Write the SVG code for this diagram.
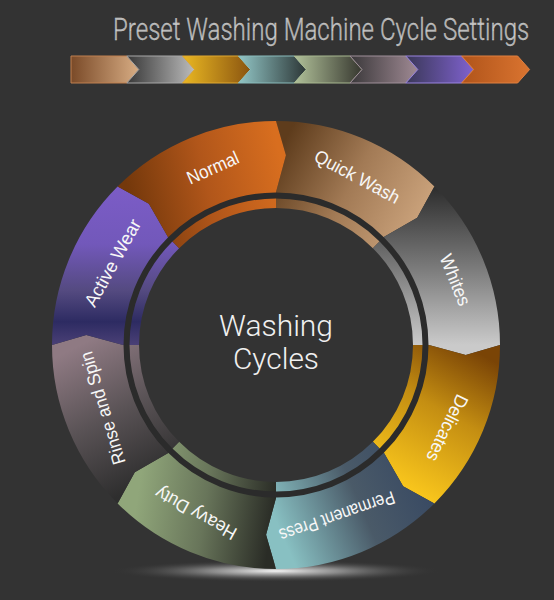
<svg xmlns="http://www.w3.org/2000/svg" width="554" height="600" viewBox="0 0 554 600">
<style>
.lbl{font-family:"Liberation Sans",Arial,sans-serif;font-size:18.5px;fill:#f7f7f7;text-anchor:middle}
.ttl{font-family:Roboto,"Liberation Sans",Arial,sans-serif;font-weight:300;font-size:32px;fill:#b0b0b0;stroke:#d8d8d8;stroke-width:0.35}
.ctr{font-family:Roboto,"Liberation Sans",Arial,sans-serif;font-weight:300;font-size:29px;fill:#f0f0f0;text-anchor:middle}
.chev{stroke-width:1}
</style>
<defs>
<linearGradient id="a1" x1="0" y1="0" x2="1" y2="0"><stop offset="0" stop-color="#7a4a28"/><stop offset="1" stop-color="#d8ad84"/></linearGradient>
<linearGradient id="a2" x1="0" y1="0" x2="1" y2="0"><stop offset="0" stop-color="#383838"/><stop offset="1" stop-color="#bcbcbc"/></linearGradient>
<linearGradient id="a3" x1="0" y1="0" x2="1" y2="0"><stop offset="0" stop-color="#eab822"/><stop offset="1" stop-color="#8a5410"/></linearGradient>
<linearGradient id="a4" x1="0" y1="0" x2="1" y2="0"><stop offset="0" stop-color="#92c6c6"/><stop offset="1" stop-color="#2c3636"/></linearGradient>
<linearGradient id="a5" x1="0" y1="0" x2="1" y2="0"><stop offset="0" stop-color="#b2c29a"/><stop offset="1" stop-color="#36372f"/></linearGradient>
<linearGradient id="a6" x1="0" y1="0" x2="1" y2="0"><stop offset="0" stop-color="#3a383a"/><stop offset="1" stop-color="#a08a94"/></linearGradient>
<linearGradient id="a7" x1="0" y1="0" x2="1" y2="0"><stop offset="0" stop-color="#3a3858"/><stop offset="1" stop-color="#8062d0"/></linearGradient>
<linearGradient id="a8" x1="0" y1="0" x2="1" y2="0"><stop offset="0" stop-color="#b0541a"/><stop offset="1" stop-color="#da7430"/></linearGradient>

<linearGradient id="gQuick" gradientUnits="userSpaceOnUse" x1="285" y1="140" x2="425" y2="215"><stop offset="0" stop-color="#5e3c1c"/><stop offset="0.5" stop-color="#a27a55"/><stop offset="1" stop-color="#cba37c"/></linearGradient>
<linearGradient id="gWhites" gradientUnits="userSpaceOnUse" x1="0" y1="190" x2="0" y2="345"><stop offset="0" stop-color="#303030"/><stop offset="0.5" stop-color="#7a7a7a"/><stop offset="1" stop-color="#cacaca"/></linearGradient>
<linearGradient id="gDelic" gradientUnits="userSpaceOnUse" x1="470" y1="348" x2="395" y2="480"><stop offset="0" stop-color="#7a4406"/><stop offset="0.45" stop-color="#c48e12"/><stop offset="1" stop-color="#f8c51c"/></linearGradient>
<linearGradient id="gPerm" gradientUnits="userSpaceOnUse" x1="420" y1="470" x2="280" y2="530"><stop offset="0" stop-color="#394a63"/><stop offset="0.45" stop-color="#4a5a68"/><stop offset="1" stop-color="#88c0c2"/></linearGradient>
<linearGradient id="gHeavy" gradientUnits="userSpaceOnUse" x1="140" y1="480" x2="275" y2="500"><stop offset="0" stop-color="#90a67a"/><stop offset="0.5" stop-color="#68755a"/><stop offset="1" stop-color="#2a2c26"/></linearGradient>
<linearGradient id="gRinse" gradientUnits="userSpaceOnUse" x1="80" y1="345" x2="150" y2="480"><stop offset="0" stop-color="#8f7a83"/><stop offset="0.5" stop-color="#5a5356"/><stop offset="1" stop-color="#2e2e2e"/></linearGradient>
<linearGradient id="gActive" gradientUnits="userSpaceOnUse" x1="0" y1="190" x2="0" y2="345"><stop offset="0" stop-color="#7b5cc6"/><stop offset="0.35" stop-color="#7258ba"/><stop offset="0.65" stop-color="#544a80"/><stop offset="0.85" stop-color="#2d2b62"/><stop offset="1" stop-color="#4a4076"/></linearGradient>
<linearGradient id="gNormal" gradientUnits="userSpaceOnUse" x1="130" y1="200" x2="282" y2="165"><stop offset="0" stop-color="#74380b"/><stop offset="0.5" stop-color="#b1561a"/><stop offset="1" stop-color="#d86e1f"/></linearGradient>
<radialGradient id="glow" cx="0.5" cy="0.5" r="0.5"><stop offset="0" stop-color="#ffffff" stop-opacity="0.95"/><stop offset="0.4" stop-color="#dddddd" stop-opacity="0.5"/><stop offset="1" stop-color="#333333" stop-opacity="0"/></radialGradient>
</defs>

<rect x="0" y="0" width="554" height="600" fill="#333333"/>

<g id="title">
<text class="ttl" transform="translate(113,40) scale(0.752,1)" x="0" y="0">Preset Washing Machine Cycle Settings</text>
</g>

<g id="arrow-bar">
<path class="chev" fill="url(#a1)" stroke="#c08050" d="M71 56 L127 56 L139 69.5 L127 83 L71 83 Z"/>
<path class="chev" fill="url(#a2)" stroke="#a8a8a8" d="M126.8 56 L182.8 56 L194.8 69.5 L182.8 83 L126.8 83 L138.8 69.5 Z"/>
<path class="chev" fill="url(#a3)" stroke="#e0a830" d="M182.6 56 L238.6 56 L250.6 69.5 L238.6 83 L182.6 83 L194.6 69.5 Z"/>
<path class="chev" fill="url(#a4)" stroke="#8abcbc" d="M238.4 56 L294.4 56 L306.4 69.5 L294.4 83 L238.4 83 L250.4 69.5 Z"/>
<path class="chev" fill="url(#a5)" stroke="#a8b890" d="M294.2 56 L350.2 56 L362.2 69.5 L350.2 83 L294.2 83 L306.2 69.5 Z"/>
<path class="chev" fill="url(#a6)" stroke="#a0909a" d="M350 56 L406 56 L418 69.5 L406 83 L350 83 L362 69.5 Z"/>
<path class="chev" fill="url(#a7)" stroke="#9a84e0" d="M405.8 56 L461.8 56 L473.8 69.5 L461.8 83 L405.8 83 L417.8 69.5 Z"/>
<path class="chev" fill="url(#a8)" stroke="#e08040" d="M461.6 56 L517.6 56 L529.6 69.5 L517.6 83 L461.6 83 L473.6 69.5 Z"/>
</g>

<ellipse id="floor-glow" cx="276" cy="571" rx="165" ry="11" fill="url(#glow)"/>

<g id="wheel">
<g id="seg-quick-wash">
<path fill="url(#gQuick)" d="M276 121 A224 224 0 0 1 434.39 186.61 L417.2 217.87 L384.19 236.81 L372.87 248.13 A137 137 0 0 0 276 208 L276 192 L285.94 155.26 Z"/>
<text class="lbl" transform="translate(357,177) rotate(28)" y="6" textLength="94" lengthAdjust="spacingAndGlyphs">Quick Wash</text>
</g>
<g id="seg-whites">
<path fill="url(#gWhites)" d="M434.39 186.61 A224 224 0 0 1 500 345 L465.74 354.94 L429 345 L413 345 A137 137 0 0 0 372.87 248.13 L384.19 236.81 L417.2 217.87 Z"/>
<text class="lbl" transform="translate(455,280) rotate(68)" y="6" textLength="54" lengthAdjust="spacingAndGlyphs">Whites</text>
</g>
<g id="seg-delicates">
<path fill="url(#gDelic)" d="M500 345 A224 224 0 0 1 434.39 503.39 L403.13 486.2 L384.19 453.19 L372.87 441.87 A137 137 0 0 0 413 345 L429 345 L465.74 354.94 Z"/>
<text class="lbl" transform="translate(447,428) rotate(116)" y="6" textLength="72" lengthAdjust="spacingAndGlyphs">Delicates</text>
</g>
<g id="seg-permanent-press">
<path fill="url(#gPerm)" d="M434.39 503.39 A224 224 0 0 1 276 569 L266.06 534.74 L276 498 L276 482 A137 137 0 0 0 372.87 441.87 L384.19 453.19 L403.13 486.2 Z"/>
<text class="lbl" transform="translate(337,516) rotate(161)" y="6" textLength="121" lengthAdjust="spacingAndGlyphs">Permanent Press</text>
</g>
<g id="seg-heavy-duty">
<path fill="url(#gHeavy)" d="M276 569 A224 224 0 0 1 117.61 503.39 L134.8 472.13 L167.81 453.19 L179.13 441.87 A137 137 0 0 0 276 482 L276 498 L266.06 534.74 Z"/>
<text class="lbl" transform="translate(196,513) rotate(209)" y="6" textLength="90" lengthAdjust="spacingAndGlyphs">Heavy Duty</text>
</g>
<g id="seg-rinse-spin">
<path fill="url(#gRinse)" d="M117.61 503.39 A224 224 0 0 1 52 345 L86.26 335.06 L123 345 L139 345 A137 137 0 0 0 179.13 441.87 L167.81 453.19 L134.8 472.13 Z"/>
<text class="lbl" transform="translate(103,408) rotate(-107)" y="6" textLength="117" lengthAdjust="spacingAndGlyphs">Rinse and Spin</text>
</g>
<g id="seg-active-wear">
<path fill="url(#gActive)" d="M52 345 A224 224 0 0 1 117.61 186.61 L148.87 203.8 L167.81 236.81 L179.13 248.13 A137 137 0 0 0 139 345 L123 345 L86.26 335.06 Z"/>
<text class="lbl" transform="translate(113,263) rotate(-61)" y="6" textLength="97" lengthAdjust="spacingAndGlyphs">Active Wear</text>
</g>
<g id="seg-normal">
<path fill="url(#gNormal)" d="M117.61 186.61 A224 224 0 0 1 276 121 L285.94 155.26 L276 192 L276 208 A137 137 0 0 0 179.13 248.13 L167.81 236.81 L148.87 203.8 Z"/>
<text class="lbl" transform="translate(213,168) rotate(-24)" y="6" textLength="55" lengthAdjust="spacingAndGlyphs">Normal</text>
</g>
<circle id="ring" cx="276" cy="345" r="149.5" fill="none" stroke="#2b2b2b" stroke-width="6"/>
</g>

<g id="center">
<text class="ctr" x="276" y="336" textLength="114" lengthAdjust="spacingAndGlyphs">Washing</text>
<text class="ctr" x="276" y="369" textLength="86" lengthAdjust="spacingAndGlyphs">Cycles</text>
</g>
</svg>
